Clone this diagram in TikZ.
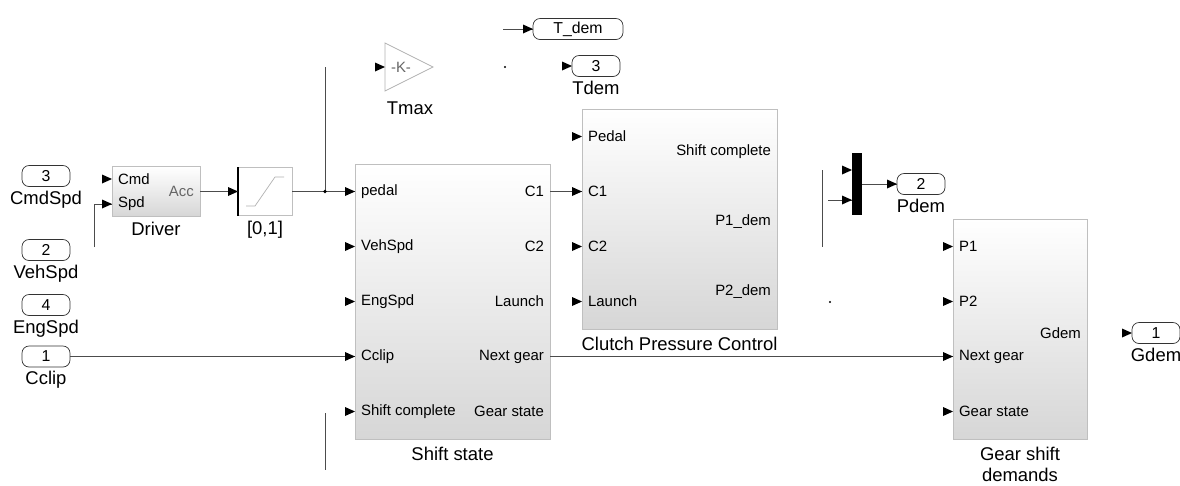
\documentclass[tikz,border=0pt]{standalone}
\usepackage{fontspec}
\setmainfont{Liberation Sans}
\usetikzlibrary{calc}
\usetikzlibrary{positioning}
\tikzset{
  blk/.style={draw=gray!50, top color=white, bottom color=gray!32, inner sep=0pt},
  ioport/.style={draw=black!80, rounded corners=4pt, minimum width=0.96cm, minimum height=0.42cm, inner sep=0pt, font=\small},
  plbl/.style={font=\fontsize{8.5}{10}\selectfont, inner sep=1pt},
  blbl/.style={font=\fontsize{10.5}{12}\selectfont, inner sep=1pt},
  wire/.style={black!70, thin},
}
\newcommand{\porttip}[1]{\fill[black] (#1) -- ++(-10,-4.5) -- ++(0,9) -- cycle;}

\begin{document}
\begin{tikzpicture}[x=0.02cm, y=-0.02cm]
\useasboundingbox (0,0) rectangle (1180,485);

% inports
\node[ioport] (in3) at (46,176) {3};
\node[blbl, below=1pt of in3] (in3l) {CmdSpd};
\node[ioport] (in2) at (46,250) {2};
\node[blbl, below=1pt of in2] (in2l) {VehSpd};
\node[ioport] (in4) at (46,305) {4};
\node[blbl, below=1pt of in4] (in4l) {EngSpd};
\node[ioport] (in1) at (46,356.5) {1};
\node[blbl, below=1pt of in1] (in1l) {Cclip};

% driver
\node[blk, minimum width=1.76cm, minimum height=1cm] (drv) at (156,191.5) {};
\node[blbl, below=2pt of drv] (drvl) {Driver};
\coordinate (drv-cmd) at (112,179);
\coordinate (drv-spd) at (112,204);
\coordinate (drv-acc) at (200,191.5);
\node[plbl, anchor=west] (drv-cmdl) at ($(drv-cmd)+(4,0)$) {Cmd};
\node[plbl, anchor=west] (drv-spdl) at ($(drv-spd)+(4,0)$) {Spd};
\node[plbl, anchor=east, text=black!60] (drv-accl) at ($(drv-acc)+(-4,0)$) {Acc};

% saturation
\node[draw=gray!50, fill=white, minimum width=1.08cm, minimum height=0.96cm, inner sep=0pt] (sat) at (265,191.5) {};
\draw[line width=1.2pt] (sat.north west) -- (sat.south west);
\draw[gray!60] (246,206) -- (255,206) -- (275,177) -- (284,177);
\node[blbl, below=2pt of sat] (satl) {[0,1]};
\coordinate (sat-in) at (238,191.5);
\coordinate (sat-out) at (292,191.5);

% gain
\draw[gray!60, fill=white] (385,43) -- (433,67) -- (385,91) -- cycle;
\node[plbl, text=black!60] (gain) at (401,67) {-K-};
\coordinate (gain-in) at (385,67);
\node[blbl] (gainl) at (410,108) {Tmax};

% goto and outport 3
\node[ioport, minimum width=1.8cm] (gto) at (578,29) {T\_dem};
\coordinate (gto-in) at (533,29);
\coordinate (gto-feed) at (503,29);
\node[ioport] (out3) at (596,66) {3};
\coordinate (out3-in) at (572,66);
\node[blbl, below=1pt of out3] (out3l) {Tdem};
\fill (505,67) circle (1.2);

% shift state
\node[blk, minimum width=3.9cm, minimum height=5.5cm] (ss) at (452.5,301.5) {};
\node[blbl, below=3pt of ss] (ssl) {Shift state};
\foreach \n/\y/\t in {1/191.5/pedal, 2/246.5/VehSpd, 3/301.5/EngSpd, 4/356.5/Cclip, 5/411.5/Shift complete} {
  \coordinate (ss-in\n) at (355,\y);
  \node[plbl, anchor=west] (ss-inl\n) at (359,\y) {\t};
}
\foreach \n/\y/\t in {1/191.5/C1, 2/246.5/C2, 3/301.5/Launch, 4/356.5/Next gear, 5/411.5/Gear state} {
  \coordinate (ss-out\n) at (550,\y);
  \node[plbl, anchor=east] (ss-outl\n) at (546,\y) {\t};
}

% clutch pressure control
\node[blk, minimum width=3.9cm, minimum height=4.4cm] (cpc) at (679.5,219) {};
\node[blbl, below=3pt of cpc] (cpcl) {Clutch Pressure Control};
\foreach \n/\y/\t in {1/136.5/Pedal, 2/191.5/C1, 3/246.5/C2, 4/301.5/Launch} {
  \coordinate (cpc-in\n) at (582,\y);
  \node[plbl, anchor=west] (cpc-inl\n) at (586,\y) {\t};
}
\foreach \n/\y/\t in {1/152/Shift complete, 2/222/P1\_dem, 3/292/P2\_dem} {
  \coordinate (cpc-out\n) at (777,\y);
  \node[plbl, anchor=east] (cpc-outl\n) at (773,\y) {\t};
}

% mux and outport 2
\node[fill=black, minimum width=0.2cm, minimum height=1.24cm, inner sep=0pt] (mux) at (857,184) {};
\coordinate (mux-in1) at (852,170);
\coordinate (mux-in2) at (852,200);
\coordinate (mux-out) at (862,184);
\coordinate (mux-feed) at (828,200);
\node[ioport] (out2) at (921,184) {2};
\coordinate (out2-in) at (897,184);
\node[blbl, below=1pt of out2] (out2l) {Pdem};
\coordinate (vl-top) at (822,170);
\coordinate (vl-bot) at (822,247);
\fill (830,302) circle (1.2);

% gear shift demands
\node[blk, minimum width=2.68cm, minimum height=4.4cm] (gsd) at (1020,329) {};
\node[blbl, below=3pt of gsd, align=center] (gsdl) {Gear shift\\demands};
\foreach \n/\y/\t in {1/246.5/P1, 2/301.5/P2, 3/356.5/Next gear, 4/411.5/Gear state} {
  \coordinate (gsd-in\n) at (953,\y);
  \node[plbl, anchor=west] (gsd-inl\n) at (957,\y) {\t};
}
\coordinate (gsd-out) at (1087,333);
\node[plbl, anchor=east] (gsd-outl) at (1083,333) {Gdem};

% outport 1
\node[ioport] (out1) at (1156,333) {1};
\coordinate (out1-in) at (1132,333);
\node[blbl, below=1pt of out1] (out1l) {Gdem};

% wires
\coordinate (spd-feed) at (94,247);
\coordinate (br) at (325,191.5);
\coordinate (br-top) at (325,67);
\coordinate (lo-top) at (325,413);
\coordinate (lo-bot) at (325,470);
\draw[wire] (in1.east) -- (ss-in4);
\draw[wire] (spd-feed) |- (drv-spd);
\draw[wire] (drv-acc) -- (sat-in);
\draw[wire] (sat-out) -- (ss-in1);
\draw[wire] (br) -- (br-top);
\fill (br) circle (1.8);
\draw[wire] (lo-top) -- (lo-bot);
\draw[wire] (gto-feed) -- (gto-in);
\draw[wire] (ss-out1) -- (cpc-in2);
\draw[wire] (ss-out4) -- (gsd-in3);
\draw[wire] (mux-out) -- (out2-in);
\draw[wire] (mux-feed) -- (mux-in2);
\draw[wire] (vl-top) -- (vl-bot);

% port tips
\foreach \p in {drv-cmd, drv-spd, sat-in, gain-in, gto-in, out3-in, mux-in1, mux-in2, out2-in, out1-in} {
  \porttip{\p}
}
\foreach \n in {1,...,5} {\porttip{ss-in\n}}
\foreach \n in {1,...,4} {\porttip{cpc-in\n}}
\foreach \n in {1,...,4} {\porttip{gsd-in\n}}
\end{tikzpicture}
\end{document}
